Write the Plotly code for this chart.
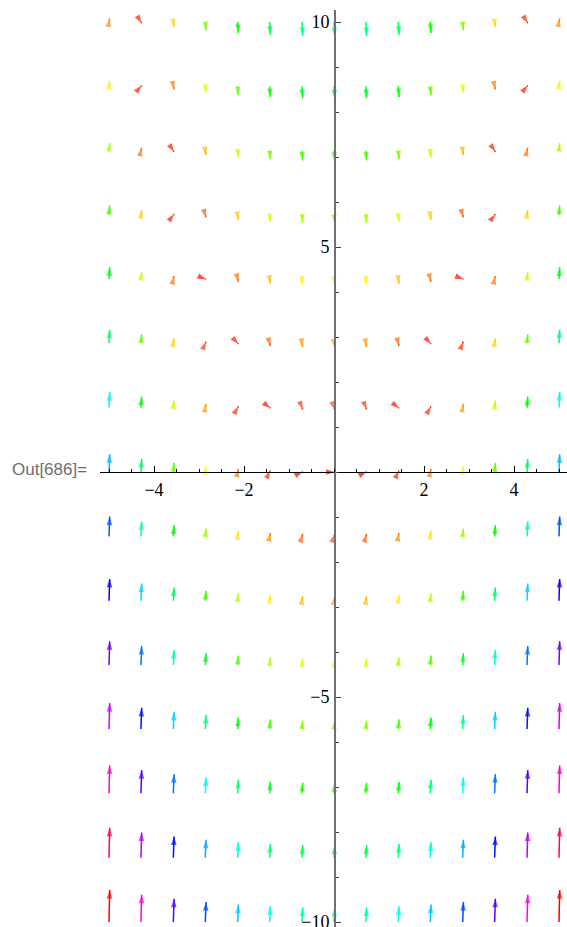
import math
import colorsys
import plotly.graph_objects as go

# ---- data (15 x 15 vector grid) ----
x_vals = [-5.0, -4.29, -3.57, -2.86, -2.14, -1.43, -0.71, 0.0, 0.71, 1.43, 2.14, 2.86, 3.57, 4.29, 5.0]
y_vals = [-10.0, -8.57, -7.14, -5.71, -4.29, -2.86, -1.43, 0.0, 1.43, 2.86, 4.29, 5.71, 7.14, 8.57, 10.0]

# horizontal components (rows follow y_vals, columns follow x_vals)
u_vals = [
    [1, 1, 1, 1, 1, 1, 1, 1, 1, 1, 1, 1, 1, 1, 1],
    [1, 1, 1, 1, 1, 1, 1, 1, 1, 1, 1, 1, 1, 1, 1],
    [1, 1, 1, 1, 1, 1, 1, 1, 1, 1, 1, 1, 1, 1, 1],
    [1, 1, 1, 1, 1, 1, 1, 1, 1, 1, 1, 1, 1, 1, 1],
    [1, 1, 1, 1, 1, 1, 1, 1, 1, 1, 1, 1, 1, 1, 1],
    [1, 1, 1, 1, 1, 1, 1, 1, 1, 1, 1, 1, 1, 1, 1],
    [1, 1, 1, 1, 1, 1, 1, 1, 1, 1, 1, 1, 1, 1, 1],
    [1, 1, 1, 1, 1, 1, 1, 1, 1, 1, 1, 1, 1, 1, 1],
    [1, 1, 1, 1, 1, 1, 1, 1, 1, 1, 1, 1, 1, 1, 1],
    [1, 1, 1, 1, 1, 1, 1, 1, 1, 1, 1, 1, 1, 1, 1],
    [1, 1, 1, 1, 1, 1, 1, 1, 1, 1, 1, 1, 1, 1, 1],
    [1, 1, 1, 1, 1, 1, 1, 1, 1, 1, 1, 1, 1, 1, 1],
    [1, 1, 1, 1, 1, 1, 1, 1, 1, 1, 1, 1, 1, 1, 1],
    [1, 1, 1, 1, 1, 1, 1, 1, 1, 1, 1, 1, 1, 1, 1],
    [1, 1, 1, 1, 1, 1, 1, 1, 1, 1, 1, 1, 1, 1, 1],
]

# vertical components
v_vals = [
    [45.0, 38.4, 32.8, 28.2, 24.6, 22.0, 20.5, 20.0, 20.5, 22.0, 24.6, 28.2, 32.8, 38.4, 45.0],
    [42.1, 35.5, 29.9, 25.3, 21.7, 19.2, 17.7, 17.1, 17.7, 19.2, 21.7, 25.3, 29.9, 35.5, 42.1],
    [39.3, 32.7, 27.0, 22.4, 18.9, 16.3, 14.8, 14.3, 14.8, 16.3, 18.9, 22.4, 27.0, 32.7, 39.3],
    [36.4, 29.8, 24.2, 19.6, 16.0, 13.5, 11.9, 11.4, 11.9, 13.5, 16.0, 19.6, 24.2, 29.8, 36.4],
    [33.6, 26.9, 21.3, 16.7, 13.2, 10.6, 9.1, 8.6, 9.1, 10.6, 13.2, 16.7, 21.3, 26.9, 33.6],
    [30.7, 24.1, 18.5, 13.9, 10.3, 7.8, 6.2, 5.7, 6.2, 7.8, 10.3, 13.9, 18.5, 24.1, 30.7],
    [27.9, 21.2, 15.6, 11.0, 7.5, 4.9, 3.4, 2.9, 3.4, 4.9, 7.5, 11.0, 15.6, 21.2, 27.9],
    [25.0, 18.4, 12.8, 8.2, 4.6, 2.0, 0.5, 0.0, 0.5, 2.0, 4.6, 8.2, 12.8, 18.4, 25.0],
    [22.1, 15.5, 9.9, 5.3, 1.7, -0.8, -2.4, -2.9, -2.4, -0.8, 1.7, 5.3, 9.9, 15.5, 22.1],
    [19.3, 12.7, 7.0, 2.4, -1.1, -3.7, -5.2, -5.7, -5.2, -3.7, -1.1, 2.4, 7.0, 12.7, 19.3],
    [16.4, 9.8, 4.2, -0.4, -4.0, -6.5, -8.1, -8.6, -8.1, -6.5, -4.0, -0.4, 4.2, 9.8, 16.4],
    [13.6, 6.9, 1.3, -3.3, -6.8, -9.4, -10.9, -11.4, -10.9, -9.4, -6.8, -3.3, 1.3, 6.9, 13.6],
    [10.7, 4.1, -1.5, -6.1, -9.7, -12.2, -13.8, -14.3, -13.8, -12.2, -9.7, -6.1, -1.5, 4.1, 10.7],
    [7.9, 1.2, -4.4, -9.0, -12.6, -15.1, -16.6, -17.1, -16.6, -15.1, -12.6, -9.0, -4.4, 1.2, 7.9],
    [5.0, -1.6, -7.2, -11.8, -15.4, -18.0, -19.5, -20.0, -19.5, -18.0, -15.4, -11.8, -7.2, -1.6, 5.0],
]

x_tick_vals = [-4, -2, 2, 4]
x_tick_text = ["\u22124", "\u22122", "2", "4"]
y_tick_vals = [-10, -5, 5, 10]
y_tick_text = ["\u221210", "\u22125", "5", "10"]
out_label = "Out[686]="

# ---- styling / layout constants ----
W, H = 567, 927
ML, MT = 100, 10
PX_PER_UNIT = 45.0
ORIGIN_PX = (334.0, 472.0)

x_range = [(ML - ORIGIN_PX[0]) / PX_PER_UNIT, (W - ORIGIN_PX[0]) / PX_PER_UNIT]
y_range = [(ORIGIN_PX[1] - H) / PX_PER_UNIT, (ORIGIN_PX[1] - MT) / PX_PER_UNIT]

mags = [[math.hypot(u, v) for u, v in zip(ur, vr)] for ur, vr in zip(u_vals, v_vals)]
m_min = min(min(r) for r in mags)
m_max = max(max(r) for r in mags)
grid_step = x_vals[1] - x_vals[0]
scale = grid_step / m_max

fig = go.Figure()
for j, y0 in enumerate(y_vals):
    for i, x0 in enumerate(x_vals):
        u = u_vals[j][i]
        v = v_vals[j][i]
        h = (mags[j][i] - m_min) / (m_max - m_min)
        r, g, b = colorsys.hsv_to_rgb(h, 1.0, 1.0)
        col = "rgb(%d,%d,%d)" % (round(r * 255), round(g * 255), round(b * 255))
        fig.add_trace(go.Scatter(
            x=[x0, x0 + u * scale],
            y=[y0, y0 + v * scale],
            mode="lines+markers",
            line=dict(color=col, width=1.5, backoff=0),
            marker=dict(symbol="arrow", size=[0, 9], color=col,
                        angleref="previous", line=dict(width=0)),
            hoverinfo="skip",
            showlegend=False,
            cliponaxis=False,
        ))

tick_font = dict(family="Liberation Serif, Times New Roman, serif", size=18, color="black")

fig.update_layout(
    width=W, height=H,
    margin=dict(l=ML, r=0, t=MT, b=0, pad=0),
    paper_bgcolor="white",
    plot_bgcolor="white",
    showlegend=False,
    xaxis=dict(
        range=x_range, domain=[0, 1],
        anchor="free",
        position=(0 - y_range[0]) / (y_range[1] - y_range[0]),
        side="bottom",
        showline=True, linecolor="black", linewidth=1,
        ticks="inside", ticklen=6, tickwidth=1, tickcolor="black",
        tickmode="array", tickvals=x_tick_vals, ticktext=x_tick_text,
        tickfont=tick_font, ticklabelstandoff=1, ticklabeloverflow="allow",
        minor=dict(tickmode="linear", tick0=0, dtick=0.5, ticks="inside",
                   ticklen=3, tickwidth=1, tickcolor="black", showgrid=False),
        showgrid=False, zeroline=False, automargin=False, fixedrange=True,
    ),
    yaxis=dict(
        range=y_range, domain=[0, 1],
        anchor="free",
        position=(0 - x_range[0]) / (x_range[1] - x_range[0]),
        side="left",
        showline=True, linecolor="#707070", linewidth=1.5,
        ticks="inside", ticklen=5, tickwidth=1, tickcolor="#404040",
        tickmode="array", tickvals=y_tick_vals, ticktext=y_tick_text,
        tickfont=tick_font, ticklabelstandoff=1, ticklabeloverflow="allow",
        minor=dict(tickmode="linear", tick0=0, dtick=1, ticks="inside",
                   ticklen=3, tickwidth=1, tickcolor="#404040", showgrid=False),
        showgrid=False, zeroline=False, automargin=False, fixedrange=True,
    ),
    annotations=[dict(
        text=out_label, xref="paper", yref="paper",
        x=(10 - ML) / (W - ML), y=(H - 469) / (H - MT),
        xanchor="left", yanchor="middle", showarrow=False,
        font=dict(family="Liberation Sans, Arial, sans-serif", size=17, color="#6e6e6e"),
    )],
)

page_fix = (
    "document.documentElement.style.margin='0';"
    "document.body.style.margin='0';"
    "document.documentElement.style.overflow='hidden';"
    "document.body.style.overflow='hidden';"
)

fig.write_html("out.html", post_script=page_fix,
               config={"displayModeBar": False, "staticPlot": True})
